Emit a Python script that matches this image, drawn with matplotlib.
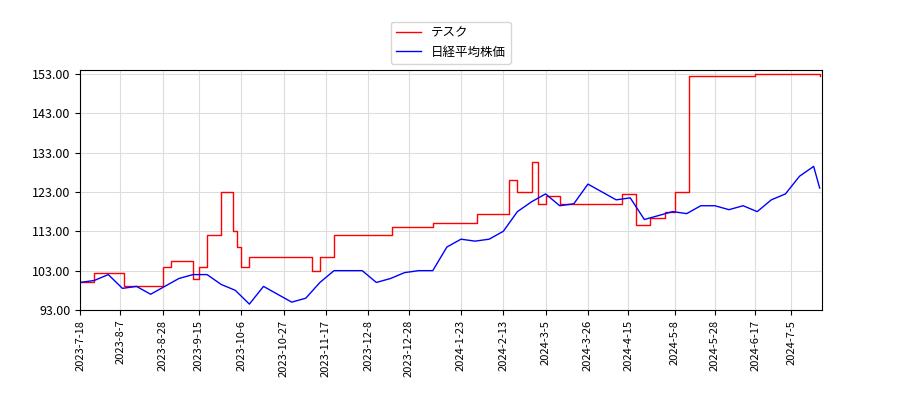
import matplotlib
matplotlib.use("Agg")
import matplotlib.pyplot as plt
import pandas as pd

plt.rcParams['font.family'] = ['Noto Sans CJK JP', 'DejaVu Sans']

red_dates = ["2023-07-18", "2023-07-25", "2023-08-07", "2023-08-09", "2023-08-28", "2023-09-01",
             "2023-09-12", "2023-09-15", "2023-09-19", "2023-09-26", "2023-10-02", "2023-10-04",
             "2023-10-06", "2023-10-10", "2023-11-07", "2023-11-10", "2023-11-14", "2023-11-21",
             "2023-12-20", "2024-01-09", "2024-01-31", "2024-02-13", "2024-02-16", "2024-02-20",
             "2024-02-27", "2024-03-01", "2024-03-05", "2024-03-12", "2024-04-12", "2024-04-19",
             "2024-04-26", "2024-05-03", "2024-05-08", "2024-05-15", "2024-06-17", "2024-07-19"]
red_vals = [100, 102.5, 102.5, 99, 104, 105.5,
            101, 104, 112, 123, 113, 109,
            104, 106.5, 106.5, 103, 106.5, 112,
            114, 115, 117.5, 117.5, 126, 123,
            130.5, 120, 122, 120, 122.5, 114.5,
            116.5, 118, 123, 152.5, 153, 152.5]

blue_dates = pd.date_range("2023-07-18", periods=53, freq="7D")
blue_vals = [100, 100.5, 102, 98.5, 99, 97, 99, 101, 102, 102, 99.5, 98, 94.5,
             99, 97, 95, 96, 100, 103, 103, 103, 100, 101, 102.5, 103, 103,
             109, 111, 110.5, 111, 113, 118, 120.5, 122.5, 119.5, 120, 125, 123,
             121, 121.5, 116, 117, 118, 117.5, 119.5, 119.5, 118.5, 119.5, 118,
             121, 122.5, 127, 129.5]
blue_dates = list(blue_dates) + [pd.Timestamp("2024-07-19")]
blue_vals = blue_vals + [124]

tick_labels = ["2023-7-18", "2023-8-7", "2023-8-28", "2023-9-15", "2023-10-6", "2023-10-27",
               "2023-11-17", "2023-12-8", "2023-12-28", "2024-1-23", "2024-2-13", "2024-3-5",
               "2024-3-26", "2024-4-15", "2024-5-8", "2024-5-28", "2024-6-17", "2024-7-5"]

fig, ax = plt.subplots(figsize=(9, 4), dpi=100)
fig.subplots_adjust(left=0.089, right=0.913, top=0.825, bottom=0.225)
ax.plot(pd.to_datetime(red_dates), red_vals, color='red', lw=1, label='テスク', drawstyle='steps-post')
ax.plot(blue_dates, blue_vals, color='blue', lw=1, label='日経平均株価')
ax.set_ylim(93, 154)
ax.set_yticks([93, 103, 113, 123, 133, 143, 153])
ax.yaxis.set_major_formatter(plt.FuncFormatter(lambda v, p: f"{v:.2f}"))
ax.set_xlim(pd.Timestamp("2023-07-18"), pd.Timestamp("2024-07-20"))
ax.set_xticks(pd.to_datetime(tick_labels))
ax.set_xticklabels(tick_labels, rotation=90, fontsize=8)
ax.tick_params(axis='y', labelsize=9)
ax.grid(True, color='#dddddd')
ax.legend(loc='lower center', bbox_to_anchor=(0.5, 1.0), fontsize=9)
fig.savefig("out.png")
